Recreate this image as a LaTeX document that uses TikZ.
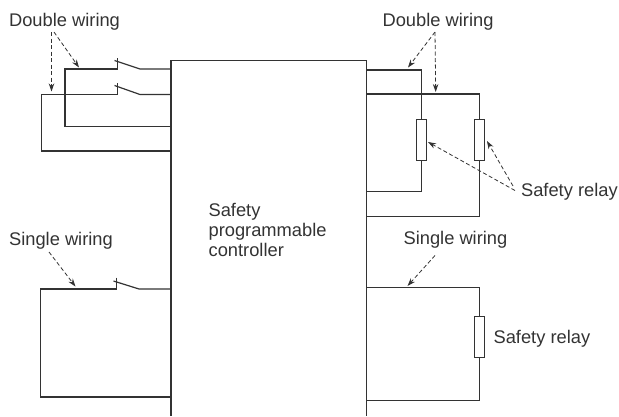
\documentclass[tikz,border=0pt]{standalone}
\usepackage{fontspec}
\setmainfont{Liberation Sans}
\usetikzlibrary{arrows.meta}
\definecolor{inkgray}{HTML}{333333}

\begin{document}
\begin{tikzpicture}[x=1pt, y=-1pt, line width=1.2pt, draw=inkgray,
    every node/.style={font=\fontsize{18.3}{20}\selectfont, text=inkgray, inner sep=0pt},
    relay/.style={draw, rectangle, fill=white, minimum width=10pt, minimum height=40.5pt},
    callout/.style={line width=0.8pt, dash pattern=on 4pt off 2.5pt, -{Stealth[length=8pt, width=5.5pt]}}]
    \useasboundingbox (0,0) rectangle (619,416);

    % controller outline
    \coordinate (CL) at (171,416);
    \coordinate (CTL) at (171,60.5);
    \coordinate (CTR) at (366.5,60.5);
    \coordinate (CR) at (366.5,416);
    \draw (CL) -- (CTL) -- (CTR) -- (CR);

    % left side, double wiring
    \coordinate (A1) at (171,69);
    \coordinate (A2) at (140,69);
    \coordinate (A3) at (114.5,60.5);
    \coordinate (A4) at (117.5,58);
    \coordinate (A5) at (117.5,69);
    \coordinate (A6) at (65,69);
    \coordinate (A7) at (65,126.5);
    \coordinate (A8) at (171,126.5);
    \draw (A1) -- (A2) -- (A3);
    \draw (A4) -- (A5) -- (A6) -- (A7) -- (A8);

    \coordinate (B1) at (171,94.5);
    \coordinate (B2) at (140,94.5);
    \coordinate (B3) at (114.5,85.5);
    \coordinate (B4) at (117.5,83);
    \coordinate (B5) at (117.5,94.5);
    \coordinate (B6) at (41.5,94.5);
    \coordinate (B7) at (41.5,151);
    \coordinate (B8) at (171,151);
    \draw (B1) -- (B2) -- (B3);
    \draw (B4) -- (B5) -- (B6) -- (B7) -- (B8);

    % left side, single wiring
    \coordinate (E1) at (171,289);
    \coordinate (E2) at (139,289);
    \coordinate (E3) at (113.5,281);
    \coordinate (E4) at (116.5,277.5);
    \coordinate (E5) at (116.5,289);
    \coordinate (E6) at (40.5,289);
    \coordinate (E7) at (40.5,397);
    \coordinate (E8) at (171,397);
    \draw (E1) -- (E2) -- (E3);
    \draw (E4) -- (E5) -- (E6) -- (E7) -- (E8);

    % relays
    \node[relay] (R1) at (421.7,140) {};
    \node[relay] (R2) at (479.7,140) {};
    \node[relay] (R3) at (479.7,337) {};

    % right side wiring
    \coordinate (F1) at (366.5,70);
    \coordinate (F2) at (421.7,70);
    \coordinate (F3) at (421.7,191.5);
    \coordinate (F4) at (366.5,191.5);
    \draw (F1) -- (F2) -- (R1.north);
    \draw (R1.south) -- (F3) -- (F4);

    \coordinate (G1) at (366.5,94);
    \coordinate (G2) at (479.7,94);
    \coordinate (G3) at (479.7,216.5);
    \coordinate (G4) at (366.5,216.5);
    \draw (G1) -- (G2) -- (R2.north);
    \draw (R2.south) -- (G3) -- (G4);

    \coordinate (H1) at (366.5,287.5);
    \coordinate (H2) at (479.7,287.5);
    \coordinate (H3) at (479.7,400.5);
    \coordinate (H4) at (366.5,400.5);
    \draw (H1) -- (H2) -- (R3.north);
    \draw (R3.south) -- (H3) -- (H4);

    % labels
    \node[anchor=west] (DL) at (8.5,22) {Double wiring};
    \node[anchor=west] (DR) at (382,22) {Double wiring};
    \node[anchor=west] (SL) at (8.5,241) {Single wiring};
    \node[anchor=west] (SR) at (403,240) {Single wiring};
    \node[anchor=west] (RU) at (520.5,191.5) {Safety relay};
    \node[anchor=west] (RD) at (493,338.5) {Safety relay};
    \node[anchor=west, align=left] (PLC) at (208,230) {Safety\\programmable\\controller};

    % callouts
    \coordinate (P1) at (51.5,32);
    \coordinate (P2) at (51.5,91.5);
    \coordinate (P3) at (54,32);
    \coordinate (P4) at (79,67.5);
    \draw[callout] (P1) -- (P2);
    \draw[callout] (P3) -- (P4);

    \coordinate (Q1) at (435,32);
    \coordinate (Q2) at (408,67.5);
    \coordinate (Q3) at (435.7,92);
    \draw[callout] (Q1) -- (Q2);
    \draw[callout] (Q1) -- (Q3);

    \coordinate (S1) at (515,190.5);
    \coordinate (S2) at (428,142);
    \coordinate (S3) at (513,186);
    \coordinate (S4) at (487,141);
    \draw[callout] (S1) -- (S2);
    \draw[callout] (S3) -- (S4);

    \coordinate (T1) at (49,252);
    \coordinate (T2) at (75.5,286.5);
    \coordinate (T3) at (435,255.5);
    \coordinate (T4) at (407.5,286);
    \draw[callout] (T1) -- (T2);
    \draw[callout] (T3) -- (T4);
\end{tikzpicture}
\end{document}
